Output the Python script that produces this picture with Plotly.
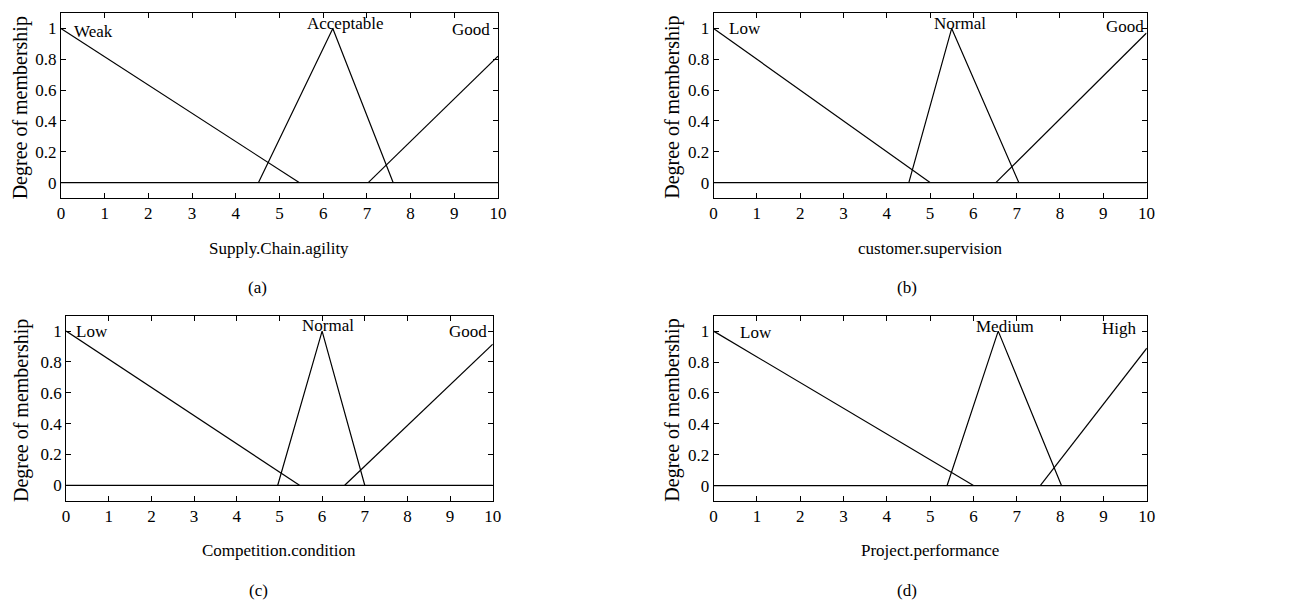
import plotly.graph_objects as go

W, H = 1307, 605
FONT = "Liberation Serif"

# ---- data (membership functions) ----
a_weak_x = [0, 5.45]; a_weak_y = [1, 0]
a_acc_x = [4.52, 6.22, 7.6]; a_acc_y = [0, 1, 0]
a_good_x = [7.03, 10]; a_good_y = [0, 0.82]

b_low_x = [0, 5.0]; b_low_y = [1, 0]
b_norm_x = [4.51, 5.5, 7.05]; b_norm_y = [0, 1, 0]
b_good_x = [6.52, 10]; b_good_y = [0, 0.97]

c_low_x = [0, 5.47]; c_low_y = [1, 0]
c_norm_x = [4.96, 6.0, 7.0]; c_norm_y = [0, 1, 0]
c_good_x = [6.53, 10]; c_good_y = [0, 0.915]

d_low_x = [0, 6.0]; d_low_y = [1, 0]
d_med_x = [5.39, 6.57, 8.03]; d_med_y = [0, 1, 0]
d_high_x = [7.54, 10]; d_high_y = [0, 0.89]

base_x = [0, 10]; base_y = [0, 0]

x_ticks = [0, 1, 2, 3, 4, 5, 6, 7, 8, 9, 10]
y_ticks = [0, 0.2, 0.4, 0.6, 0.8, 1]
y_ticktext = ["0", "0.2", "0.4", "0.6", "0.8", "1"]

panels = [
    dict(series=[(a_weak_x, a_weak_y), (a_acc_x, a_acc_y), (a_good_x, a_good_y)],
         labels=[("Weak", 0.75, 0.98), ("Acceptable", 6.49, 1.03), ("Good", 9.39, 0.99)],
         xtitle="Supply.Chain.agility", caption="(a)",
         box=(57.5, 499, 13, 198), yt=(216, 248, 287), cap_x=256, ytitle_x=17),
    dict(series=[(b_low_x, b_low_y), (b_norm_x, b_norm_y), (b_good_x, b_good_y)],
         labels=[("Low", 0.72, 1.0), ("Normal", 5.7, 1.03), ("Good", 9.5, 1.015)],
         xtitle="customer.supervision", caption="(b)",
         box=(716.7, 1154, 13, 198), yt=(216, 248, 287), cap_x=912, ytitle_x=675),
    dict(series=[(c_low_x, c_low_y), (c_norm_x, c_norm_y), (c_good_x, c_good_y)],
         labels=[("Low", 0.6, 1.0), ("Normal", 6.13, 1.035), ("Good", 9.41, 1.0)],
         xtitle="Competition.condition", caption="(c)",
         box=(62.7, 493.7, 315.7, 500.7), yt=(518, 550, 590), cap_x=257, ytitle_x=17),
    dict(series=[(d_low_x, d_low_y), (d_med_x, d_med_y), (d_high_x, d_high_y)],
         labels=[("Low", 0.98, 0.99), ("Medium", 6.72, 1.03), ("High", 9.38, 1.02)],
         xtitle="Project.performance", caption="(d)",
         box=(716.7, 1154.3, 315.7, 501), yt=(518, 550, 590), cap_x=912, ytitle_x=675),
]

fig = go.Figure()
annotations = []
line = dict(color="black", width=1.2)

def px_x(p):
    return p / W

def px_y(p):
    return 1 - p / H

for i, p in enumerate(panels):
    n = "" if i == 0 else str(i + 1)
    xa, ya = "x" + n, "y" + n
    for sx, sy in [(base_x, base_y)] + p["series"]:
        fig.add_trace(go.Scatter(x=sx, y=sy, mode="lines", line=line,
                                 xaxis=xa, yaxis=ya, showlegend=False,
                                 hoverinfo="skip", cliponaxis=False))
    l, r, t, b = p["box"]
    axis_common = dict(showline=True, linecolor="black", linewidth=1, mirror="ticks",
                       ticks="inside", ticklen=5, tickcolor="black", tickwidth=1,
                       showgrid=False, zeroline=False,
                       tickfont=dict(family=FONT, size=17, color="black"))
    fig.layout["xaxis" + n] = dict(domain=[px_x(l), px_x(r)], range=[0, 10],
                                   tickvals=x_ticks, anchor=ya, **axis_common)
    fig.layout["yaxis" + n] = dict(domain=[px_y(b), px_y(t)], range=[-0.1, 1.1],
                                   tickvals=y_ticks, ticktext=y_ticktext, anchor=xa,
                                   **axis_common)
    for txt, lx, ly in p["labels"]:
        annotations.append(dict(text=txt, x=lx, y=ly, xref=xa, yref=ya,
                                showarrow=False, xanchor="center", yanchor="middle",
                                font=dict(family=FONT, size=17, color="black")))
    cx = (l + r) / 2
    annotations.append(dict(text=p["xtitle"], x=px_x(cx), y=px_y(p["yt"][1]),
                            xref="paper", yref="paper", showarrow=False,
                            xanchor="center", yanchor="middle",
                            font=dict(family=FONT, size=17, color="black")))
    annotations.append(dict(text=p["caption"], x=px_x(p["cap_x"]), y=px_y(p["yt"][2]),
                            xref="paper", yref="paper", showarrow=False,
                            xanchor="center", yanchor="middle",
                            font=dict(family=FONT, size=17, color="black")))
    annotations.append(dict(text="Degree of membership", x=px_x(p["ytitle_x"]),
                            y=px_y((t + b) / 2 + 2), xref="paper", yref="paper",
                            showarrow=False, textangle=-90,
                            xanchor="center", yanchor="middle",
                            font=dict(family=FONT, size=20, color="black")))

fig.update_layout(width=W, height=H, margin=dict(l=0, r=0, t=0, b=0),
                  paper_bgcolor="white", plot_bgcolor="white",
                  annotations=annotations, showlegend=False)

fig.write_html("out.html", config={"displayModeBar": False})
